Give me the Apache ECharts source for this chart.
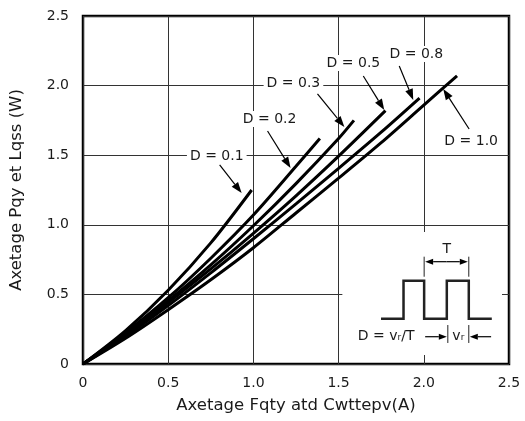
<!DOCTYPE html>
<html><head><meta charset="utf-8">
<script src="https://cdn.jsdelivr.net/npm/echarts@6/dist/echarts.min.js"></script>
<style>html,body{margin:0;padding:0;background:#fff}#c{width:525px;height:421px}</style>
</head><body><div id="c"></div>
<script>
const xTicks = ['0', '0.5', '1.0', '1.5', '2.0', '2.5'];
const yTicks = ['0', '0.5', '1.0', '1.5', '2.0', '2.5'];
const xName = 'Axetage Fqty atd Cwttepv(A)';
const yName = 'Axetage Pqy et Lqss (W)';
const seriesNames = ['D = 0.1', 'D = 0.2', 'D = 0.3', 'D = 0.5', 'D = 0.8', 'D = 1.0'];
const d01 = [[0,0],[0.25,0.24],[0.5,0.53],[0.75,0.87],[0.99,1.25]];
const d02 = [[0,0],[0.25,0.225],[0.5,0.476],[0.75,0.76],[1.0,1.07],[1.25,1.42],[1.39,1.62]];
const d03 = [[0,0],[0.25,0.218],[0.5,0.455],[0.75,0.712],[1.0,0.993],[1.25,1.296],[1.5,1.62],[1.59,1.75]];
const d05 = [[0,0],[0.25,0.208],[0.5,0.441],[0.75,0.683],[1.0,0.939],[1.25,1.208],[1.5,1.493],[1.775,1.82]];
const d08 = [[0,0],[0.25,0.2],[0.5,0.42],[0.75,0.655],[1.0,0.9],[1.25,1.15],[1.5,1.405],[1.75,1.665],[1.975,1.91]];
const d10 = [[0,0],[0.25,0.185],[0.5,0.39],[0.75,0.605],[1.0,0.835],[1.25,1.085],[1.5,1.335],[1.75,1.59],[2.0,1.86],[2.195,2.07]];
const curves = [d01, d02, d03, d05, d08, d10];

// annotation placements in data coordinates: label centre, arrow start, arrow tip
const labelPos = [[0.785,1.494],[1.095,1.760],[1.235,2.019],[1.587,2.162],[1.956,2.227],[2.278,1.602]];
const arrowFrom = [[0.802,1.43],[1.083,1.674],[1.376,1.94],[1.645,2.069],[1.856,2.141],[2.266,1.688]];
const arrowTo = [[0.931,1.228],[1.218,1.408],[1.534,1.703],[1.768,1.825],[1.938,1.897],[2.114,1.976]];

// inset (pulse diagram) in data coordinates
const insetBox = [[1.522,0.948],[2.459,0.065]];
const pulseX = [1.749, 1.881, 2.002, 2.135, 2.264, 2.399];
const pulseLow = 0.325, pulseHigh = 0.598;

const FONT = 'DejaVu Sans';
const TXT = '#1a1a1a';
const chart = echarts.init(document.getElementById('c'), null, {renderer: 'canvas'});

const option = {
  animation: false,
  backgroundColor: '#fff',
  grid: {left: 82, right: 16, top: 16, bottom: 57, show: true, borderColor: '#000', borderWidth: 2.5, backgroundColor: 'transparent'},
  xAxis: {
    type: 'value', min: 0, max: 2.5, interval: 0.5,
    axisLine: {show: false}, axisTick: {show: false},
    axisLabel: {formatter: v => xTicks[Math.round(v / 0.5)], fontFamily: FONT, fontSize: 14, color: TXT, margin: 12},
    splitLine: {show: true, lineStyle: {color: '#333', width: 1}},
    name: xName, nameLocation: 'middle', nameGap: 33,
    nameTextStyle: {fontFamily: FONT, fontSize: 16.5, color: TXT}
  },
  yAxis: {
    type: 'value', min: 0, max: 2.5, interval: 0.5,
    axisLine: {show: false}, axisTick: {show: false},
    axisLabel: {formatter: v => yTicks[Math.round(v / 0.5)], fontFamily: FONT, fontSize: 14, color: TXT, margin: 14},
    splitLine: {show: true, lineStyle: {color: '#333', width: 1}},
    name: yName, nameLocation: 'middle', nameGap: 58,
    nameTextStyle: {fontFamily: FONT, fontSize: 16.5, color: TXT}
  },
  series: curves.map((d, i) => ({
    name: seriesNames[i], type: 'line', data: d, smooth: 0.3, symbol: 'none',
    lineStyle: {color: '#000', width: 3}, z: 3
  }))
};
chart.setOption(option);

const P = p => chart.convertToPixel({gridIndex: 0}, p);
const g = [];
function arrowEls(a, b, len, hw, lw) {
  const dx = b[0] - a[0], dy = b[1] - a[1];
  const L = Math.hypot(dx, dy), ux = dx / L, uy = dy / L;
  const base = [b[0] - ux * len, b[1] - uy * len];
  const nx = -uy, ny = ux;
  return [
    {type: 'line', z: 52, shape: {x1: a[0], y1: a[1], x2: base[0], y2: base[1]}, style: {stroke: '#000', lineWidth: lw}},
    {type: 'polygon', z: 52, shape: {points: [b, [base[0] + nx * hw, base[1] + ny * hw], [base[0] - nx * hw, base[1] - ny * hw]]}, style: {fill: '#000'}}
  ];
}
seriesNames.forEach((n, i) => {
  const c = P(labelPos[i]);
  g.push({type: 'text', z: 51, style: {text: n, x: c[0], y: c[1], align: 'center', verticalAlign: 'middle',
    font: '14px "' + FONT + '"', fill: TXT, backgroundColor: '#fff', padding: [1, 3]}});
  g.push(...arrowEls(P(arrowFrom[i]), P(arrowTo[i]), 11, 4, 1.2));
});
// inset background
const b0 = P(insetBox[0]), b1 = P(insetBox[1]);
g.push({type: 'rect', z: 49, shape: {x: b0[0], y: b0[1], width: b1[0] - b0[0], height: b1[1] - b0[1]}, style: {fill: '#fff'}});
// pulse train
const pts = [];
const yl = P([0, pulseLow])[1], yh = P([0, pulseHigh])[1];
const px = pulseX.map(x => P([x, 0])[0]);
pts.push([px[0], yl], [px[1], yl], [px[1], yh], [px[2], yh], [px[2], yl], [px[3], yl], [px[3], yh], [px[4], yh], [px[4], yl], [px[5], yl]);
g.push({type: 'polyline', z: 50, shape: {points: pts}, style: {stroke: '#222', lineWidth: 2.5, fill: null}});
// T dimension
const yTtop = P([0, 0.771])[1], yTbot = P([0, 0.627])[1], yTarr = P([0, 0.735])[1];
[px[2], px[4]].forEach(x => g.push({type: 'line', z: 50, shape: {x1: x, y1: yTtop, x2: x, y2: yTbot}, style: {stroke: '#222', lineWidth: 1}}));
const midT = (px[2] + px[4]) / 2;
g.push(...arrowEls([midT, yTarr], [px[2] + 1, yTarr], 8, 3, 1.2));
g.push(...arrowEls([midT, yTarr], [px[4] - 1, yTarr], 8, 3, 1.2));
const tPos = P([2.135, 0.824]);
g.push({type: 'text', z: 51, style: {text: 'T', x: tPos[0], y: tPos[1], align: 'center', verticalAlign: 'middle', font: '14px "' + FONT + '"', fill: TXT}});
// duty formula and tp dimension
const fPos = P([1.779, 0.196]);
g.push({type: 'text', z: 51, style: {text: 'D = vᵣ/T', x: fPos[0], y: fPos[1], align: 'center', verticalAlign: 'middle', font: '14px "' + FONT + '"', fill: TXT}});
const yDt = P([0, 0.28])[1], yDb = P([0, 0.151])[1], yDa = P([0, 0.196])[1];
const xl = P([2.141, 0])[0], xr = P([2.264, 0])[0];
[xl, xr].forEach(x => g.push({type: 'line', z: 50, shape: {x1: x, y1: yDt, x2: x, y2: yDb}, style: {stroke: '#222', lineWidth: 1}}));
g.push(...arrowEls([P([2.008, 0])[0], yDa], [xl - 1, yDa], 8, 3, 1.2));
g.push(...arrowEls([P([2.395, 0])[0], yDa], [xr + 1, yDa], 8, 3, 1.2));
g.push({type: 'text', z: 51, style: {text: 'vᵣ', x: (xl + xr) / 2, y: yDa, align: 'center', verticalAlign: 'middle', font: '14px "' + FONT + '"', fill: TXT}});
chart.setOption({graphic: {elements: g}});
</script></body></html>
